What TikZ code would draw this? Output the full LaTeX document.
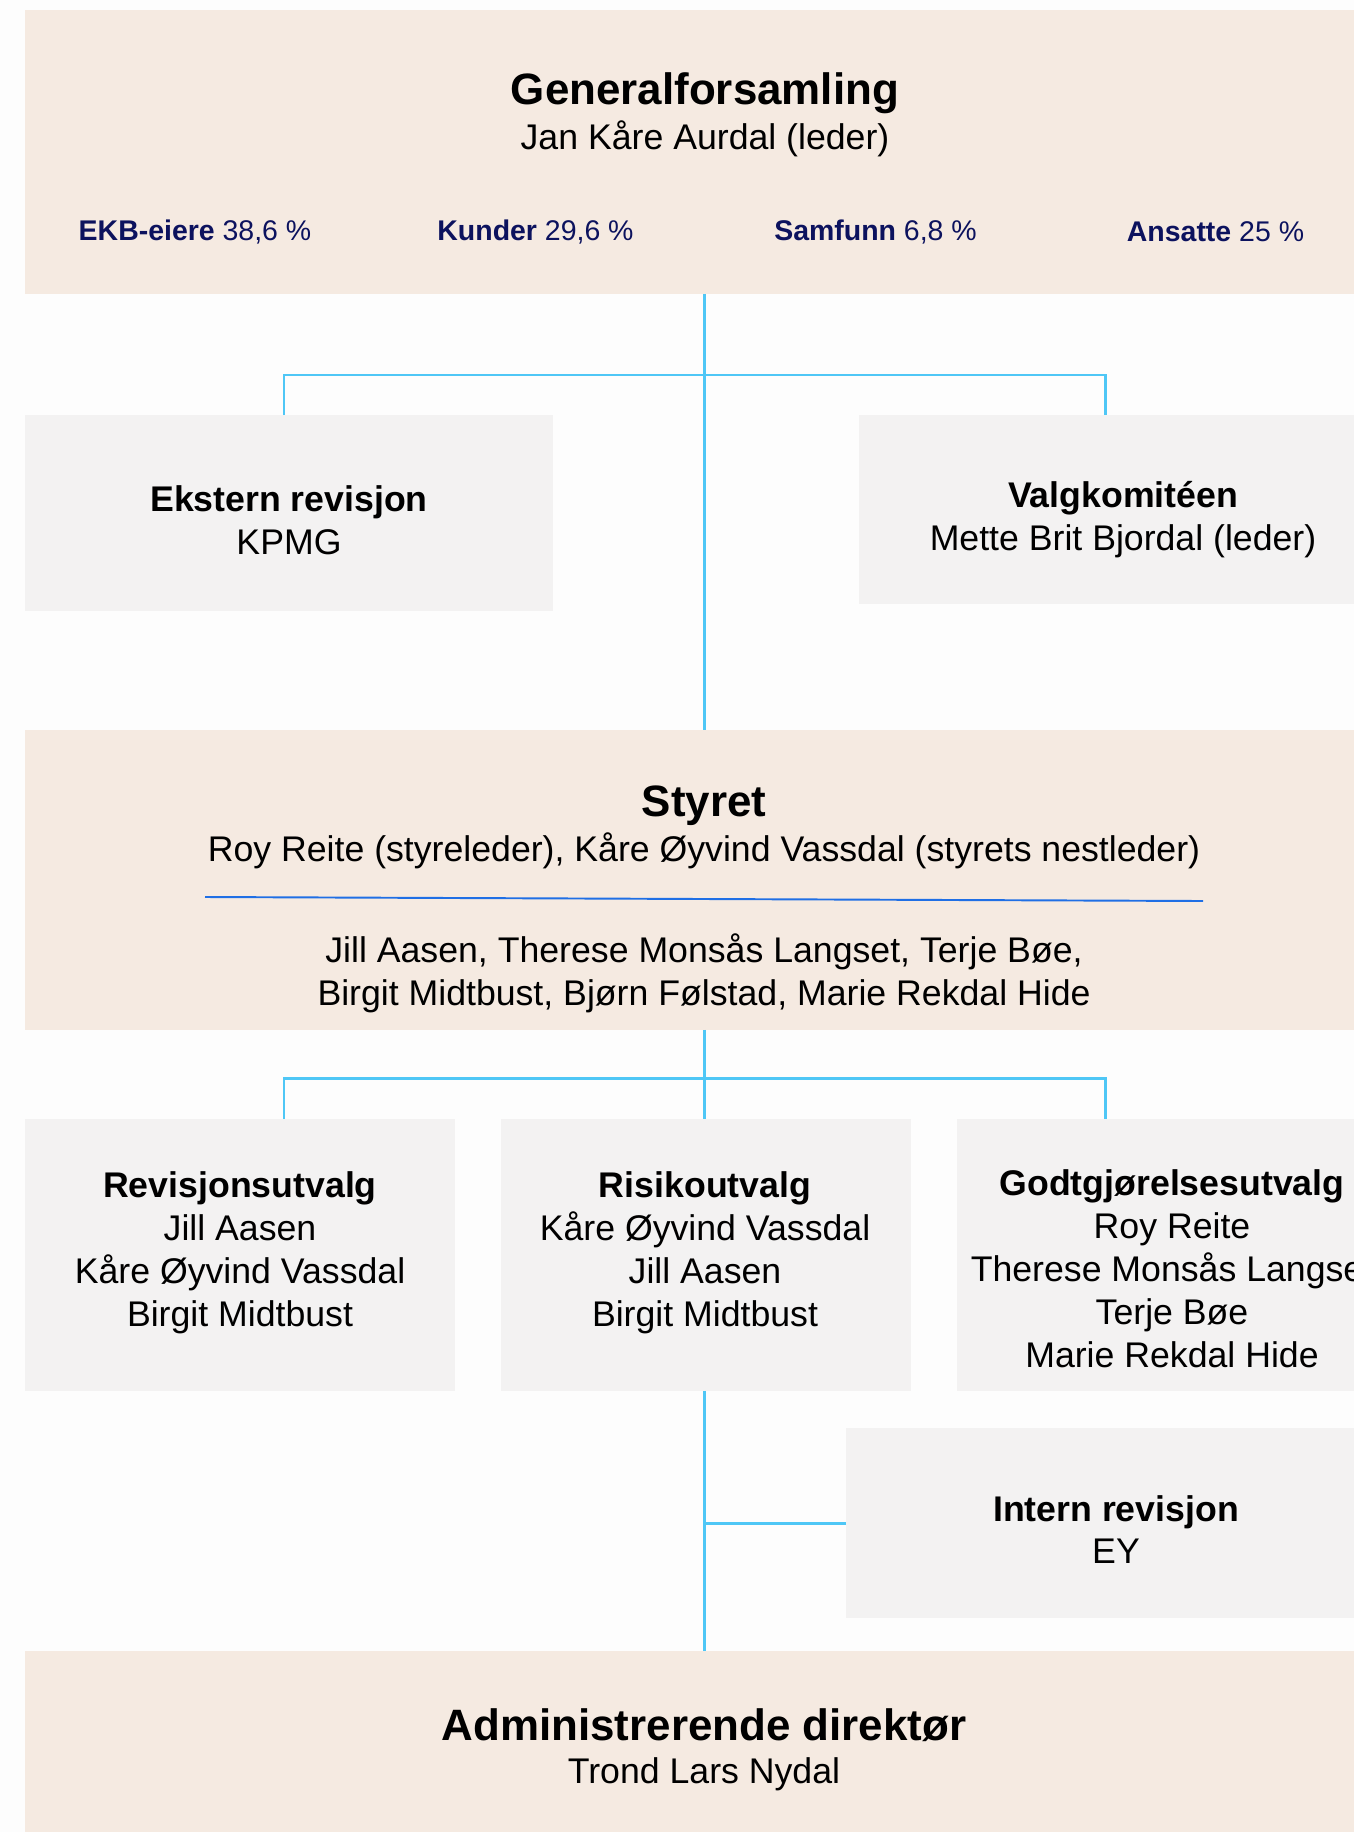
\documentclass[tikz,border=0pt]{standalone}
\usepackage{fontspec}
\setmainfont{Liberation Sans}
\usetikzlibrary{calc}

\definecolor{pagewhite}{RGB}{253,253,253}
\definecolor{gfbeige}{RGB}{245,234,225}
\definecolor{boxgrey}{RGB}{243,242,242}
\definecolor{linkblue}{RGB}{79,199,246}
\definecolor{rulerblue}{RGB}{31,111,229}
\definecolor{sharenavy}{RGB}{12,18,94}

\tikzset{
  beigebox/.style={rectangle, fill=gfbeige, inner sep=0pt, outer sep=0pt},
  greybox/.style={rectangle, fill=boxgrey, inner sep=0pt, outer sep=0pt},
  link/.style={draw=linkblue, line width=1.7pt},
  boxtext/.style={align=center, inner sep=0pt, text=black,
    font=\fontsize{20.3}{24.4}\selectfont},
  bigtitle/.style={inner sep=0pt, text=black,
    font=\fontsize{25}{30}\selectfont\bfseries},
  share/.style={inner sep=0pt, text=sharenavy,
    font=\fontsize{16.2}{19}\selectfont}
}

\begin{document}
\begin{tikzpicture}[x=0.02cm, y=-0.02cm]
    \useasboundingbox (0,0) rectangle (1354,1832);
    \clip (0,0) rectangle (1354,1832);
    \fill[pagewhite] (0,0) rectangle (1354,1832);

    % Boxes (the wide ones run past the right edge)
    \node[beigebox, minimum width=27.16cm, minimum height=5.68cm] (gf) at (704,152) {};
    \node[greybox, minimum width=10.56cm, minimum height=3.92cm] (ekstern) at (289,513) {};
    \node[greybox, minimum width=10.56cm, minimum height=3.78cm] (valg) at (1123,509.5) {};
    \node[beigebox, minimum width=27.16cm, minimum height=6cm] (styret) at (704,880) {};
    \node[greybox, minimum width=8.6cm, minimum height=5.44cm] (revisjon) at (240,1255) {};
    \node[greybox, minimum width=8.2cm, minimum height=5.44cm] (risiko) at (706,1255) {};
    \node[greybox, minimum width=8.6cm, minimum height=5.44cm] (godt) at (1172,1255) {};
    \node[greybox, minimum width=10.8cm, minimum height=3.8cm] (intern) at (1116,1523) {};
    \node[beigebox, minimum width=27.16cm, minimum height=3.98cm] (admin) at (704,1750.5) {};

    % Branch points
    \coordinate (jtop) at (704,375);
    \coordinate (jmid) at (704,1078);

    % Connectors
    \draw[link] (gf.south) -- (styret.north);
    \draw[link] ([xshift=-0.1cm]ekstern.north) |- (jtop) -| ([xshift=-0.36cm]valg.north);
    \draw[link] (styret.south) -- (styret.south |- risiko.north);
    \draw[link] ([xshift=0.88cm]revisjon.north) |- (jmid) -| ([xshift=-1.34cm]godt.north);
    \draw[link] (admin.north |- risiko.south) -- (admin.north);
    \draw[link] (intern.west) -- (intern.west -| admin.north);

    % Divider in Styret
    \coordinate (rulerL) at (205,897);
    \coordinate (rulerR) at (1203,901);
    \draw[rulerblue, line width=1.1pt] (rulerL) -- (rulerR);

    % Generalforsamling
    \node[bigtitle] (gftitle) at (705,93) {Generalforsamling};
    \node[boxtext] (gfname) at (705,139) {Jan Kåre Aurdal (leder)};
    \node[share] (ekb) at (195,232) {\textbf{EKB-eiere} 38,6 \%};
    \node[share] (kunder) at (535.5,232) {\textbf{Kunder} 29,6 \%};
    \node[share] (samfunn) at (875.5,232) {\textbf{Samfunn} 6,8 \%};
    \node[share] (ansatte) at (1215.5,232) {\textbf{Ansatte} 25 \%};

    % Side boxes
    \node[boxtext] (eksterntext) at (289,520.5) {\textbf{Ekstern revisjon}\\KPMG};
    \node[boxtext] (valgtext) at (1123,520) {\textbf{Valgkomitéen}\\Mette Brit Bjordal (leder)};

    % Styret
    \node[bigtitle] (styrettitle) at (704,806) {Styret};
    \node[boxtext] (styretlead) at (704,851) {Roy Reite (styreleder), Kåre Øyvind Vassdal (styrets nestleder)};
    \node[boxtext] (styretmembers) at (704,973) {Jill Aasen, Therese Monsås Langset, Terje Bøe,\\Birgit Midtbust, Bjørn Følstad, Marie Rekdal Hide};

    % Utvalg
    \node[boxtext] (revisjontext) at (240,1253) {\textbf{Revisjonsutvalg}\\Jill Aasen\\Kåre Øyvind Vassdal\\Birgit Midtbust};
    \node[boxtext] (risikotext) at (705,1253) {\textbf{Risikoutvalg}\\Kåre Øyvind Vassdal\\Jill Aasen\\Birgit Midtbust};
    \node[boxtext] (godttext) at (1172,1268.5) {\textbf{Godtgjørelsesutvalg}\\Roy Reite\\Therese Monsås Langset\\Terje Bøe\\Marie Rekdal Hide};

    % Intern revisjon and adm. dir.
    \node[boxtext] (interntext) at (1116,1529.5) {\textbf{Intern revisjon}\\EY};
    \node[bigtitle] (admintitle) at (704,1725) {Administrerende direktør};
    \node[boxtext] (adminname) at (704,1774) {Trond Lars Nydal};
\end{tikzpicture}
\end{document}
